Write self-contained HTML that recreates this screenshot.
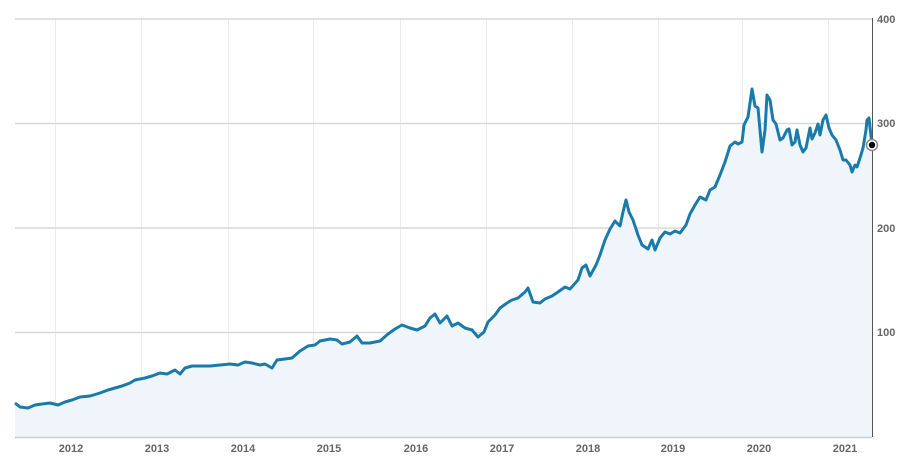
<!DOCTYPE html>
<html><head><meta charset="utf-8"><style>
html,body{margin:0;padding:0;background:#fff;}
svg{display:block;font-family:"Liberation Sans",sans-serif;}
</style></head><body>
<svg width="902" height="462" viewBox="0 0 902 462">
<g stroke="#ececec" stroke-width="1">
<line x1="55.5" y1="19" x2="55.5" y2="437"/><line x1="141.5" y1="19" x2="141.5" y2="437"/>
<line x1="228.5" y1="19" x2="228.5" y2="437"/><line x1="313.5" y1="19" x2="313.5" y2="437"/>
<line x1="400.5" y1="19" x2="400.5" y2="437"/><line x1="486.5" y1="19" x2="486.5" y2="437"/>
<line x1="572.5" y1="19" x2="572.5" y2="437"/><line x1="658.5" y1="19" x2="658.5" y2="437"/>
<line x1="742.5" y1="19" x2="742.5" y2="437"/><line x1="828.5" y1="19" x2="828.5" y2="437"/>
</g>
<g stroke="#d8d8d8" stroke-width="1.5">
<line x1="15" y1="19" x2="872" y2="19"/><line x1="15" y1="123.5" x2="872" y2="123.5"/>
<line x1="15" y1="228" x2="872" y2="228"/><line x1="15" y1="332.5" x2="872" y2="332.5"/>
</g>
<path fill="#eff5fa" d="M15,403 20,407 28,408 35,405 42,404 50,403 58,405 65,402 72,400 80,397 90,396 100,393 108,390 115,388 122,386 130,383 135,380 140,379 145,378 152,376 160,373 167,374 175,370 180,374 185,368 192,366 200,366 210,366 220,365 230,364 238,365 245,362 252,363 260,365 265,364 272,368 277,360 285,359 292,358 300,351 308,346 315,345 320,341 330,339 337,340 342,344 350,342 357,336 362,343 370,343 380,341 388,334 395,329 402,325 410,328 417,330 425,326 430,318 435,314 440,323 447,316 452,326 458,323 465,328 472,330 478,337 484,332 488,322 495,315 500,308 507,303 512,300 518,298 525,292 528,288 533,302 540,303 545,299 552,296 558,292 565,287 570,289 578,280 582,268 586,265 590,276 596,265 600,255 605,240 610,229 615,221 620,226 623,212 626,200 629,212 633,220 638,235 642,245 648,249 652,240 655,250 660,238 665,232 670,234 675,231 680,233 686,225 690,214 695,205 700,197 706,200 710,190 715,187 720,175 725,162 730,146 735,142 738,144 742,142 744,125 748,117 752,89 755,106 758,108 760,130 762,152 765,130 767,95 770,100 773,120 776,124 780,140 783,138 787,130 789,129 792,145 795,142 797,130 800,145 803,152 806,148 810,128 812,139 815,133 818,124 820,135 823,120 826,115 829,128 832,135 836,140 840,150 843,160 846,160 850,165 852,172 855,165 857,167 860,158 863,148 866,130 867,120 869,118 872,145 L872,437 L15,437 Z"/>
<polyline fill="none" stroke="#1a7bab" stroke-width="3" stroke-linejoin="round" points="15,403 20,407 28,408 35,405 42,404 50,403 58,405 65,402 72,400 80,397 90,396 100,393 108,390 115,388 122,386 130,383 135,380 140,379 145,378 152,376 160,373 167,374 175,370 180,374 185,368 192,366 200,366 210,366 220,365 230,364 238,365 245,362 252,363 260,365 265,364 272,368 277,360 285,359 292,358 300,351 308,346 315,345 320,341 330,339 337,340 342,344 350,342 357,336 362,343 370,343 380,341 388,334 395,329 402,325 410,328 417,330 425,326 430,318 435,314 440,323 447,316 452,326 458,323 465,328 472,330 478,337 484,332 488,322 495,315 500,308 507,303 512,300 518,298 525,292 528,288 533,302 540,303 545,299 552,296 558,292 565,287 570,289 578,280 582,268 586,265 590,276 596,265 600,255 605,240 610,229 615,221 620,226 623,212 626,200 629,212 633,220 638,235 642,245 648,249 652,240 655,250 660,238 665,232 670,234 675,231 680,233 686,225 690,214 695,205 700,197 706,200 710,190 715,187 720,175 725,162 730,146 735,142 738,144 742,142 744,125 748,117 752,89 755,106 758,108 760,130 762,152 765,130 767,95 770,100 773,120 776,124 780,140 783,138 787,130 789,129 792,145 795,142 797,130 800,145 803,152 806,148 810,128 812,139 815,133 818,124 820,135 823,120 826,115 829,128 832,135 836,140 840,150 843,160 846,160 850,165 852,172 855,165 857,167 860,158 863,148 866,130 867,120 869,118 872,145"/>
<line x1="15" y1="437.5" x2="872" y2="437.5" stroke="#c8cdd5" stroke-width="1.5"/>
<line x1="872.5" y1="18" x2="872.5" y2="437" stroke="#555" stroke-width="1"/>
<circle cx="872" cy="145" r="5.5" fill="#fff" stroke="#888" stroke-width="1.5"/>
<circle cx="872" cy="145" r="3.2" fill="#000"/>
<g font-size="11" font-weight="bold" fill="#666">
<text x="877" y="23">400</text><text x="877" y="127">300</text>
<text x="877" y="232">200</text><text x="877" y="336">100</text>
<g text-anchor="middle">
<text x="71" y="452">2012</text><text x="157" y="452">2013</text><text x="243" y="452">2014</text>
<text x="329" y="452">2015</text><text x="416" y="452">2016</text><text x="502" y="452">2017</text>
<text x="588" y="452">2018</text><text x="673" y="452">2019</text><text x="759" y="452">2020</text>
<text x="845" y="452">2021</text>
</g></g>
</svg>
</body></html>
